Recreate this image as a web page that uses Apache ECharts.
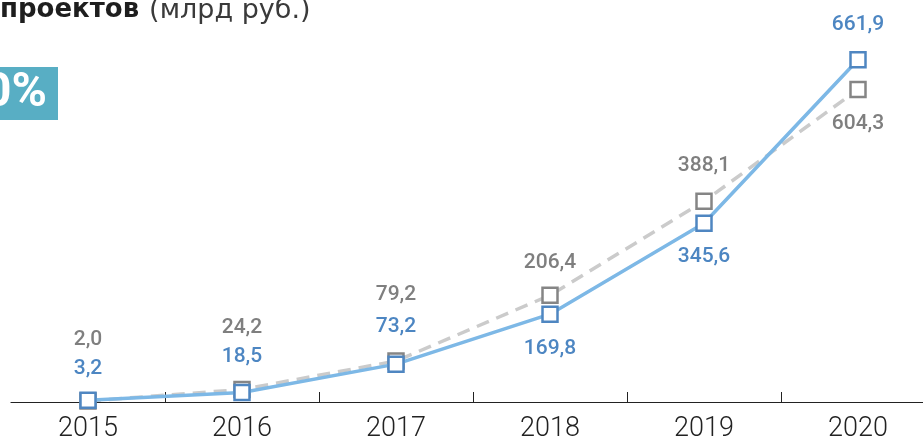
<!DOCTYPE html>
<html>
<head>
<meta charset="utf-8">
<script src="https://cdn.jsdelivr.net/npm/echarts@6/dist/echarts.min.js"></script>
<style>
html,body{margin:0;padding:0;background:#fff;overflow:hidden;width:923px;height:443px;}
#c{width:935px;height:443px;}
</style>
</head>
<body>
<div id="c"></div>
<script>
const categories = ['2015', '2016', '2017', '2018', '2019', '2020'];
const blueValues = [3.2, 18.5, 73.2, 169.8, 345.6, 661.9];
const grayValues = [2.0, 24.2, 79.2, 206.4, 388.1, 604.3];
const titleBold = 'проектов';
const titleRegular = '(млрд руб.)';
const badgeText = '50%';

// label vertical offsets from marker centre (presentation only)
const blueLabelOffset = [-32, -36, -37, 35, 33, -35];
const grayLabelOffset = [-61, -62, -66, -33, -36, 34];

const fmt = v => v.toFixed(1).replace('.', ',');

function buildData(values, offsets) {
  return values.map((v, i) => ({
    value: v,
    label: { offset: [0, offsets[i]] }
  }));
}

const chart = echarts.init(document.getElementById('c'), null, { renderer: 'canvas' });
chart.setOption({
  animation: false,
  backgroundColor: '#ffffff',
  grid: { left: 11, top: 40, right: 0, bottom: 41, containLabel: false },
  xAxis: {
    type: 'category',
    data: categories,
    boundaryGap: true,
    axisLine: { show: true, lineStyle: { color: '#222222', width: 1.2 } },
    axisTick: { show: true, inside: true, length: 10, lineStyle: { color: '#222222', width: 1 },
      interval: (i) => i > 0 },
    axisLabel: { color: '#222222', fontFamily: 'Roboto', fontWeight: 300, fontSize: 27, margin: 14 },
    splitLine: { show: false }
  },
  yAxis: {
    type: 'value', min: 0, max: 700, show: false, splitLine: { show: false }
  },
  series: [
    {
      name: 'gray',
      type: 'line',
      data: buildData(grayValues, grayLabelOffset),
      z: 2,
      symbol: 'rect',
      symbolSize: 15,
      lineStyle: { color: '#cbcbcb', width: 3.5, type: [13, 8] },
      itemStyle: { color: '#ffffff', borderColor: '#858585', borderWidth: 2.5 },
      label: {
        show: true, position: 'inside', color: '#7f7f7f',
        fontFamily: 'Roboto', fontWeight: 500, fontSize: 21,
        formatter: p => fmt(p.value)
      }
    },
    {
      name: 'blue',
      type: 'line',
      data: buildData(blueValues, blueLabelOffset),
      z: 3,
      symbol: 'rect',
      symbolSize: 15,
      lineStyle: { color: '#7db8e6', width: 3.5 },
      itemStyle: { color: '#ffffff', borderColor: '#4f86c1', borderWidth: 2.5 },
      label: {
        show: true, position: 'inside', color: '#4d86c2',
        fontFamily: 'Roboto', fontWeight: 500, fontSize: 21,
        formatter: p => fmt(p.value)
      }
    }
  ],
  graphic: [
    {
      type: 'text', left: 0, top: -3,
      style: {
        text: '{b|' + titleBold + '}{r|' + titleRegular + '}',
        rich: {
          b: { fontFamily: 'DejaVu Sans', fontWeight: 'bold', fontSize: 26, fill: '#1e1e1e' },
          r: { fontFamily: 'DejaVu Sans', fontWeight: 'normal', fontSize: 27, fill: '#3a3a3a', padding: [0, 0, 0, 10] }
        }
      }
    },
    {
      type: 'rect', shape: { x: 0, y: 67, width: 58, height: 53 },
      style: { fill: '#58aec4' }
    },
    {
      type: 'text', x: 47, y: 94,
      style: {
        text: badgeText, fill: '#ffffff', fontFamily: 'Roboto', fontWeight: 'bold', fontSize: 48,
        align: 'right', verticalAlign: 'middle'
      }
    }
  ]
});
</script>
</body>
</html>
